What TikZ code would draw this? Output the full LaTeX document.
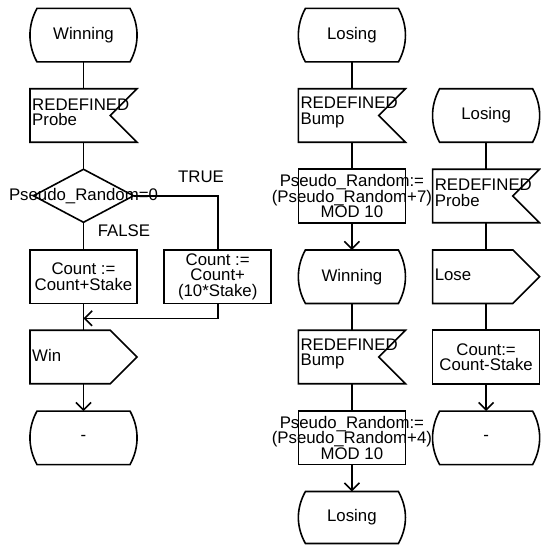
\documentclass[tikz,border=0pt]{standalone}
\usepackage{fontspec}
\setmainfont{Liberation Sans}
\usetikzlibrary{shapes.geometric,arrows.meta}

% SDL process diagram symbols
\tikzset{
  symline/.style={line width=1.6pt, line join=miter},
  sym/.style={rectangle, draw=none, inner sep=0pt, outer sep=0pt,
    minimum width=107pt, minimum height=53.5pt},
  txt/.style={font=\fontsize{16.8pt}{15.5pt}\selectfont,
    inner sep=0pt, align=center},
  centretext/.style={label={[txt]center:{#1}}},
  inputtext/.style={label={[txt, align=left, anchor=west, xshift=2pt, yshift=3pt]west:{#1}}},
  outputtext/.style={label={[txt, align=left, anchor=west, xshift=2pt, yshift=2pt]west:{#1}}},
  conn/.style={line width=1.6pt},
  flow/.style={conn, -{Straight Barb[length=7.5pt,width=15pt]}},
}

% outlines drawn around the placeholder nodes
\newcommand\drawstate[1]{%
  \draw[symline] ([xshift=7pt]#1.north west) -- ([xshift=-7pt]#1.north east)
    .. controls ([xshift=2.4pt,yshift=-17pt]#1.north east)
       and ([xshift=2.4pt,yshift=17pt]#1.south east) .. ([xshift=-7pt]#1.south east)
    -- ([xshift=7pt]#1.south west)
    .. controls ([xshift=-2.4pt,yshift=17pt]#1.south west)
       and ([xshift=-2.4pt,yshift=-17pt]#1.north west) .. cycle;}
\newcommand\drawinput[1]{%
  \draw[symline] (#1.north west) -- (#1.north east) -- ([xshift=-26.75pt]#1.east)
    -- (#1.south east) -- (#1.south west) -- cycle;}
\newcommand\drawoutput[1]{%
  \draw[symline] (#1.north west) -- ([xshift=-26.75pt]#1.north east) -- (#1.east)
    -- ([xshift=-26.75pt]#1.south east) -- (#1.south west) -- cycle;}
\newcommand\drawtask[1]{%
  \draw[symline] (#1.north west) rectangle (#1.south east);}

\lineskiplimit=-20pt

\begin{document}
\begin{tikzpicture}[x=1pt, y=-1pt]
\path[fill=white] (0,0) rectangle (540,545);
\useasboundingbox (0,0) rectangle (540,545);

% ---- column 1: state Winning ----
\node[sym, centretext=Winning] (w1) at (83.5,35.2) {};
\node[sym, inputtext={REDEFINED\\Probe}] (p1) at (83.5,115.5) {};
\node[diamond, symline, draw, inner sep=0pt, outer sep=0pt,
      minimum width=100pt, minimum height=53pt,
      label={[txt]center:{Pseudo\_Random=0}}] (d1) at (83.5,195.8) {};
\node[sym, centretext={Count :=\\Count+Stake}] (t1) at (83.5,276.7) {};
\node[sym, centretext={Count :=\\Count+\\(10*Stake)}] (t1b) at (217.7,276.7) {};
\node[sym, outputtext=Win] (o1) at (83.5,357) {};
\node[sym, centretext=-] (e1) at (83.5,437.8) {};
\node[txt] (true) at (201,177) {TRUE};
\node[txt] (false) at (124,230.5) {FALSE};
\coordinate (m1) at (83.5,318.3);

% ---- column 2: state Losing, input Bump ----
\node[sym, centretext=Losing] (s2) at (351.9,35.2) {};
\node[sym, inputtext={REDEFINED\\Bump}] (b2) at (351.9,115.5) {};
\node[sym, centretext={Pseudo\_Random:=\\(Pseudo\_Random+7)\\MOD 10}] (t2) at (351.9,196) {};
\node[sym, centretext=Winning] (w2) at (351.9,276.7) {};
\node[sym, inputtext={REDEFINED\\Bump}] (b2b) at (351.9,357) {};
\node[sym, centretext={Pseudo\_Random:=\\(Pseudo\_Random+4)\\MOD 10}] (t2b) at (351.9,437.8) {};
\node[sym, minimum height=52pt, centretext=Losing] (s2b) at (351.9,517.5) {};

% ---- column 3: state Losing, input Probe ----
\node[sym, centretext=Losing] (s3) at (486.1,115.5) {};
\node[sym, inputtext={REDEFINED\\Probe}] (p3) at (486.1,196) {};
\node[sym, outputtext=Lose] (o3) at (486.1,276.7) {};
\node[sym, centretext={Count:=\\Count-Stake}] (t3) at (486.1,357) {};
\node[sym, centretext=-] (e3) at (486.1,437.8) {};

% symbol outlines
\foreach \n in {w1,e1,s2,w2,s2b,s3,e3} {\drawstate{\n}}
\foreach \n in {p1,b2,b2b,p3} {\drawinput{\n}}
\foreach \n in {o1,o3} {\drawoutput{\n}}
\foreach \n in {t1,t1b,t2,t2b,t3} {\drawtask{\n}}

% flow lines
\draw[conn] (w1.south) -- (p1.north);
\draw[conn] (p1.south) -- (d1.north);
\draw[conn] (d1.south) -- (t1.north);
\draw[conn] (d1.east) -| (t1b.north);
\draw[conn] (t1.south) -- (o1.north);
\draw[flow] (t1b.south) |- (m1);
\draw[flow] (o1.south) -- (e1.north);

\draw[conn] (s2.south) -- (b2.north);
\draw[conn] (b2.south) -- (t2.north);
\draw[flow] (t2.south) -- (w2.north);
\draw[conn] (w2.south) -- (b2b.north);
\draw[conn] (b2b.south) -- (t2b.north);
\draw[flow] (t2b.south) -- (s2b.north);

\draw[conn] (s3.south) -- (p3.north);
\draw[conn] (p3.south) -- (o3.north);
\draw[conn] (o3.south) -- (t3.north);
\draw[flow] (t3.south) -- (e3.north);
\end{tikzpicture}
\end{document}
